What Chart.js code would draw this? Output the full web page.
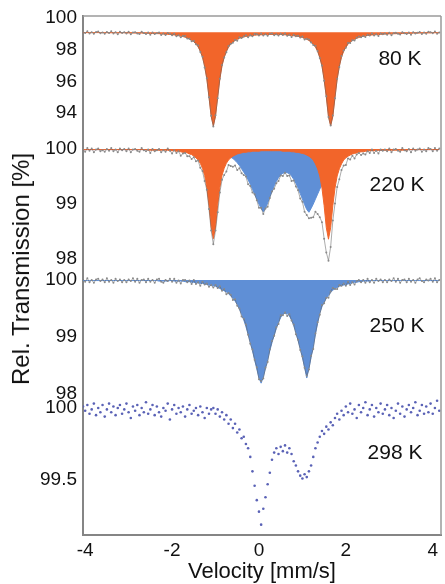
<!DOCTYPE html>
<html>
<head>
<meta charset="utf-8">
<script src="https://cdn.jsdelivr.net/npm/chart.js@4.4.1/dist/chart.umd.min.js"></script>
<style>
  html, body { margin: 0; padding: 0; background: #fff; }
  #wrap { position: relative; width: 445px; height: 584px; overflow: hidden; }
  #wrap canvas { position: absolute; left: 0; }
  #ytitle {
    position: absolute; left: 21px; top: 269px;
    transform: translate(-50%, -50%) rotate(-90deg);
    font: 24px "Liberation Sans", Arial, sans-serif; color: #111; white-space: nowrap;
  }
</style>
</head>
<body>
<div id="wrap">
  <canvas id="c80" width="445" height="175" style="top:-8px"></canvas>
  <canvas id="c220" width="445" height="175" style="top:119px"></canvas>
  <canvas id="c250" width="445" height="176" style="top:246px"></canvas>
  <canvas id="c298" width="445" height="210" style="top:374px"></canvas>
  <div id="ytitle">Rel. Transmission [%]</div>
</div>
<script>
// velocity channels (mm/s)
const velocity = [
  -4.05,-4,-3.95,-3.9,-3.85,-3.8,-3.75,-3.7,-3.65,-3.6,-3.55,-3.5,-3.45,-3.4,-3.35,-3.3,-3.25,-3.2,-3.15,-3.1,
  -3.05,-3,-2.95,-2.9,-2.85,-2.8,-2.75,-2.7,-2.65,-2.6,-2.55,-2.5,-2.45,-2.4,-2.35,-2.3,-2.25,-2.2,-2.15,-2.1,
  -2.05,-2,-1.95,-1.9,-1.85,-1.8,-1.75,-1.7,-1.65,-1.6,-1.55,-1.5,-1.45,-1.4,-1.35,-1.3,-1.25,-1.2,-1.15,-1.1,
  -1.05,-1,-0.95,-0.9,-0.85,-0.8,-0.75,-0.7,-0.65,-0.6,-0.55,-0.5,-0.45,-0.4,-0.35,-0.3,-0.25,-0.2,-0.15,-0.1,
  -0.05,0,0.05,0.1,0.15,0.2,0.25,0.3,0.35,0.4,0.45,0.5,0.55,0.6,0.65,0.7,0.75,0.8,0.85,0.9,
  0.95,1,1.05,1.1,1.15,1.2,1.25,1.3,1.35,1.4,1.45,1.5,1.55,1.6,1.65,1.7,1.75,1.8,1.85,1.9,
  1.95,2,2.05,2.1,2.15,2.2,2.25,2.3,2.35,2.4,2.45,2.5,2.55,2.6,2.65,2.7,2.75,2.8,2.85,2.9,
  2.95,3,3.05,3.1,3.15,3.2,3.25,3.3,3.35,3.4,3.45,3.5,3.55,3.6,3.65,3.7,3.75,3.8,3.85,3.9,
  3.95,4,4.05,4.1,4.15
];
const xTicks = [-4, -2, 0, 2, 4];

// 80 K: doublet fit (orange) and measured
const fit80 = [
  99.08,99.08,99.08,99.08,99.08,99.08,99.08,99.08,99.08,99.08,99.08,99.07,99.07,99.07,99.07,99.07,99.07,99.07,99.07,99.07,
  99.06,99.06,99.06,99.06,99.05,99.05,99.05,99.05,99.04,99.04,99.04,99.03,99.03,99.02,99.02,99.01,99.0,98.99,98.98,98.97,
  98.96,98.95,98.93,98.91,98.89,98.86,98.83,98.79,98.74,98.68,98.6,98.5,98.36,98.17,97.91,97.53,96.97,96.14,95.01,93.78,
  93.18,93.78,95.01,96.14,96.97,97.53,97.9,98.16,98.35,98.49,98.58,98.66,98.72,98.77,98.81,98.84,98.86,98.88,98.9,98.91,
  98.93,98.93,98.94,98.95,98.96,98.96,98.96,98.96,98.96,98.96,98.96,98.96,98.95,98.94,98.93,98.91,98.9,98.88,98.86,98.84,
  98.81,98.77,98.72,98.66,98.58,98.48,98.35,98.16,97.9,97.52,96.96,96.13,95.0,93.77,93.18,93.77,95.0,96.13,96.96,97.52,
  97.9,98.16,98.35,98.49,98.58,98.66,98.72,98.77,98.82,98.85,98.88,98.9,98.91,98.93,98.94,98.95,98.96,98.97,98.98,98.99,
  98.99,99.0,99.0,99.01,99.01,99.02,99.02,99.03,99.03,99.04,99.04,99.04,99.05,99.05,99.05,99.05,99.06,99.06,99.06,99.06,
  99.06,99.07,99.07,99.07,99.07
];
const data80 = [
  99.13,99.05,99.16,99.02,99.10,99.0,99.12,99.15,99.04,99.09,99.01,99.12,99.05,99.16,99.02,99.10,98.98,99.13,99.06,99.11,
  99.02,99.13,98.98,99.09,99.11,99.03,98.99,99.13,99.05,98.99,99.08,98.94,99.09,98.99,99.04,99.08,98.93,99.02,98.93,99.05,
  99.01,98.92,99.01,98.85,98.91,98.78,98.87,98.86,98.70,98.69,98.53,98.55,98.34,98.26,97.86,97.56,96.88,96.20,95.0,93.82,
  93.14,93.85,94.93,96.17,97.03,97.51,97.84,98.24,98.36,98.44,98.62,98.57,98.78,98.74,98.83,98.91,98.79,98.91,98.85,98.99,
  98.98,98.90,99.02,98.89,98.98,98.88,99.0,99.03,98.92,98.97,98.89,99.01,98.93,99.03,98.88,98.94,98.81,98.94,98.85,98.88,
  98.77,98.84,98.64,98.69,98.64,98.46,98.29,98.24,97.91,97.47,97.0,96.04,95.06,93.74,93.20,93.84,94.93,96.16,96.91,97.60,
  97.95,98.13,98.43,98.43,98.60,98.58,98.76,98.84,98.78,98.86,98.81,98.95,98.89,99.02,98.89,98.98,98.87,99.03,98.97,99.03,
  98.95,99.07,98.92,99.04,99.07,99.0,98.96,99.11,99.04,98.99,99.08,98.95,99.11,99.02,99.07,99.12,98.99,99.09,99.01,99.14,
  99.11,99.04,99.15,99.01,99.09
];

// 220 K: orange doublet, blue doublet, measured
const fit220orange = [
  99.99,99.99,99.99,99.99,99.99,99.99,99.99,99.99,99.99,99.99,99.99,99.99,99.99,99.99,99.99,99.99,99.99,99.99,99.99,99.99,
  99.99,99.99,99.99,99.99,99.99,99.99,99.99,99.99,99.99,99.99,99.98,99.98,99.98,99.98,99.98,99.98,99.98,99.98,99.98,99.98,
  99.97,99.97,99.97,99.96,99.96,99.95,99.94,99.94,99.93,99.91,99.9,99.87,99.84,99.8,99.74,99.65,99.52,99.3,98.98,98.58,
  98.37,98.58,98.98,99.3,99.52,99.65,99.74,99.8,99.84,99.87,99.89,99.91,99.92,99.93,99.94,99.94,99.95,99.95,99.96,99.96,
  99.96,99.96,99.97,99.97,99.97,99.97,99.97,99.97,99.97,99.97,99.97,99.97,99.96,99.96,99.96,99.96,99.95,99.95,99.94,99.94,
  99.93,99.92,99.91,99.89,99.87,99.84,99.8,99.73,99.64,99.51,99.29,98.97,98.57,98.36,98.57,98.97,99.29,99.51,99.64,99.73,
  99.8,99.84,99.87,99.89,99.91,99.92,99.93,99.94,99.95,99.95,99.96,99.96,99.97,99.97,99.97,99.97,99.98,99.98,99.98,99.98,
  99.98,99.98,99.98,99.98,99.98,99.98,99.98,99.98,99.98,99.98,99.99,99.99,99.99,99.99,99.99,99.99,99.99,99.99,99.99,99.99,
  99.99,99.99,99.99,99.99,99.99
];
const fit220blue = [
  99.99,99.99,99.99,99.99,99.99,99.99,99.99,99.99,99.99,99.99,99.99,99.99,99.99,99.99,99.99,99.99,99.99,99.99,99.99,99.99,
  99.99,99.99,99.99,99.99,99.99,99.99,99.99,99.99,99.99,99.99,99.99,99.99,99.99,99.99,99.99,99.99,99.99,99.99,99.99,99.99,
  99.98,99.98,99.98,99.98,99.97,99.97,99.97,99.97,99.96,99.96,99.96,99.96,99.95,99.95,99.95,99.94,99.94,99.94,99.93,99.93,
  99.92,99.92,99.91,99.91,99.9,99.89,99.88,99.87,99.85,99.83,99.79,99.75,99.7,99.64,99.58,99.52,99.44,99.36,99.27,99.18,
  99.09,99.0,98.92,98.86,98.92,99.02,99.13,99.23,99.33,99.41,99.48,99.53,99.56,99.57,99.57,99.55,99.51,99.45,99.38,99.29,
  99.19,99.09,98.99,98.9,98.85,98.92,99.0,99.09,99.18,99.27,99.36,99.44,99.52,99.58,99.64,99.7,99.75,99.79,99.83,99.85,
  99.88,99.9,99.92,99.93,99.94,99.95,99.95,99.96,99.96,99.97,99.97,99.97,99.97,99.98,99.98,99.98,99.98,99.98,99.98,99.99,
  99.99,99.99,99.99,99.99,99.99,99.99,99.99,99.99,99.99,99.99,99.99,99.99,99.99,99.99,99.99,99.99,99.99,99.99,99.99,99.99,
  99.99,99.99,99.99,99.99,99.99
];
const data220 = [
  100.0,99.95,100.02,99.97,100.01,99.94,99.99,100.01,99.96,99.98,99.95,100.0,99.97,100.02,99.96,99.99,99.94,100.01,99.98,100.0,
  99.96,100.01,99.94,99.99,100.0,99.97,99.95,100.02,99.98,99.96,99.99,99.93,100.0,99.96,99.98,100.0,99.94,99.98,99.95,100.01,
  99.97,99.92,99.98,99.93,99.96,99.88,99.92,99.93,99.87,99.87,99.82,99.85,99.78,99.79,99.66,99.6,99.42,99.26,98.91,98.52,
  98.27,98.52,98.85,99.21,99.44,99.53,99.59,99.71,99.69,99.68,99.7,99.62,99.65,99.56,99.53,99.5,99.36,99.33,99.21,99.18,
  99.07,98.93,98.93,98.82,98.92,98.95,99.11,99.23,99.28,99.38,99.42,99.52,99.51,99.57,99.51,99.52,99.42,99.43,99.32,99.25,
  99.10,99.04,98.86,98.80,98.74,98.75,98.76,98.86,98.82,98.76,98.67,98.37,98.12,97.97,98.22,98.7,99.01,99.31,99.45,99.62,
  99.7,99.71,99.83,99.81,99.88,99.83,99.9,99.93,99.89,99.92,99.9,99.96,99.93,99.99,99.93,99.97,99.92,99.99,99.97,99.99,
  99.96,100.01,99.94,99.99,100.0,99.97,99.95,100.02,99.98,99.96,100.0,99.94,100.01,99.97,99.99,100.01,99.95,99.99,99.96,100.02,
  100.0,99.96,100.02,99.97,100.01
];

// 250 K: blue doublet and measured
const fit250 = [
  99.99,99.99,99.99,99.99,99.99,99.99,99.99,99.99,99.99,99.99,99.99,99.99,99.99,99.99,99.99,99.99,99.99,99.99,99.99,99.99,
  99.99,99.99,99.99,99.99,99.99,99.99,99.99,99.99,99.99,99.99,99.99,99.99,99.99,99.99,99.99,99.98,99.98,99.98,99.98,99.98,
  99.99,99.99,99.98,99.98,99.98,99.98,99.98,99.97,99.97,99.97,99.96,99.96,99.95,99.95,99.94,99.94,99.93,99.92,99.91,99.9,
  99.9,99.89,99.87,99.85,99.83,99.81,99.79,99.76,99.72,99.68,99.63,99.57,99.49,99.4,99.3,99.18,99.05,98.91,98.76,98.6,
  98.44,98.28,98.19,98.3,98.45,98.6,98.76,98.9,99.03,99.15,99.26,99.34,99.4,99.42,99.41,99.37,99.3,99.2,99.08,98.94,
  98.8,98.64,98.47,98.28,98.45,98.64,98.83,99.05,99.24,99.42,99.53,99.61,99.68,99.73,99.78,99.82,99.85,99.87,99.89,99.9,
  99.91,99.92,99.93,99.94,99.95,99.96,99.96,99.97,99.97,99.98,99.98,99.98,99.98,99.99,99.99,99.99,99.99,99.99,99.99,99.99,
  99.99,99.99,99.99,99.99,99.99,99.99,99.99,99.99,99.99,99.99,99.99,99.99,99.99,99.99,99.99,99.99,99.99,99.99,99.99,99.99,
  99.99,99.99,99.99,99.99,99.99
];
const data250 = [
  100.02,99.97,100.03,99.96,100.0,99.95,100.01,100.02,99.98,100.01,99.96,100.03,99.97,100.0,99.95,100.02,99.98,100.01,99.96,100.0,
  99.96,100.01,99.98,100.03,99.97,100.02,99.95,100.0,100.01,99.96,100.02,99.97,100.0,99.95,100.01,100.02,99.97,99.95,100.0,99.98,
  100.02,99.97,100.02,99.95,99.99,99.94,100.0,100.0,99.96,99.99,99.93,100.0,99.93,99.96,99.9,99.97,99.92,99.94,99.88,99.91,
  99.87,99.91,99.86,99.89,99.81,99.84,99.75,99.77,99.74,99.65,99.66,99.55,99.5,99.36,99.32,99.22,99.04,98.88,98.78,98.6,
  98.47,98.26,98.23,98.27,98.46,98.56,98.78,98.93,99.02,99.17,99.23,99.38,99.38,99.43,99.37,99.4,99.29,99.22,99.05,98.95,
  98.77,98.66,98.46,98.32,98.43,98.67,98.79,99.06,99.26,99.39,99.56,99.59,99.69,99.69,99.8,99.86,99.84,99.84,99.91,99.9,
  99.94,99.9,99.97,99.91,99.96,99.92,99.98,100.0,99.96,100.0,99.95,100.02,99.96,100.0,99.95,100.02,99.98,100.01,99.96,100.0,
  99.96,100.01,99.98,100.03,99.97,100.02,99.95,100.0,100.01,99.96,100.02,99.97,100.0,99.95,100.01,100.03,99.98,99.96,100.01,99.99,
  100.02,99.97,100.03,99.96,100.0
];

// 298 K: measured only
const data298 = [
  100.01,99.98,100.02,99.96,99.99,100.03,99.95,100.0,99.97,100.02,99.94,99.99,100.03,99.97,100.01,99.95,100.0,100.02,99.96,99.99,
  100.03,99.97,99.93,100.01,99.98,100.02,99.95,100.0,99.97,100.04,99.96,99.99,100.02,99.95,100.01,99.97,99.94,100.0,99.98,100.03,
  99.92,99.99,100.02,99.96,100.0,99.97,100.01,99.94,99.99,100.02,99.96,99.98,100.0,99.95,100.01,99.97,99.93,100.0,99.96,99.99,
  100.0,99.96,99.99,99.94,99.97,99.92,99.95,99.89,99.92,99.86,99.89,99.83,99.85,99.79,99.8,99.75,99.72,99.66,99.56,99.46,
  99.36,99.28,99.19,99.3,99.38,99.47,99.55,99.64,99.69,99.72,99.68,99.73,99.7,99.74,99.69,99.72,99.68,99.63,99.6,99.56,
  99.53,99.51,99.54,99.52,99.56,99.6,99.66,99.72,99.76,99.8,99.84,99.82,99.87,99.85,99.9,99.88,99.93,99.96,99.92,99.98,
  99.95,100.01,99.97,100.03,99.96,99.99,99.93,100.02,99.97,100.0,100.04,99.95,99.99,100.02,99.94,100.0,99.97,100.03,99.96,99.99,
  100.02,99.95,100.0,99.93,99.98,100.03,99.96,100.01,99.94,99.99,100.02,99.97,100.0,100.04,99.95,99.98,100.02,99.96,100.01,99.97,
  100.03,99.96,100.0,100.05,99.98
];

const ticks80 = [94, 96, 98, 100];
const ticks220 = [98, 99, 100];
const ticks250 = [98, 99, 100];
const ticks298 = [99.5, 100];

const FONT = '"Liberation Sans", Arial, sans-serif';
const ORANGE = '#f2652a';
const BLUE = '#5f8fd6';
const AXIS = '#858585';

function pts(ys) {
    return velocity.map((v, i) => ({x: v, y: ys[i]}));
}

// panel label + right/top frame lines
const panelDeco = {
    id: 'panelDeco',
    afterDraw(chart, args, opts) {
        const ctx = chart.ctx;
        const a = chart.chartArea;
        ctx.save();
        ctx.strokeStyle = '#9a9a9a';
        ctx.lineWidth = 1.5;
        ctx.beginPath();
        ctx.moveTo(a.right, a.top);
        ctx.lineTo(a.right, a.bottom);
        if (opts.top) {
            ctx.moveTo(a.left, a.top);
            ctx.lineTo(a.right, a.top);
        }
        ctx.stroke();
        ctx.font = '21px ' + FONT;
        ctx.fillStyle = '#111';
        ctx.textAlign = 'center';
        ctx.textBaseline = 'middle';
        ctx.fillText(opts.text, opts.x, opts.y);
        ctx.restore();
    }
};

function yScale(min, max, ticks) {
    return {
        min: min,
        max: max,
        afterBuildTicks: s => { s.ticks = ticks.map(v => ({value: v})); },
        afterFit: s => { s.width = 83; s.paddingTop = 0; s.paddingBottom = 0; },
        grid: {display: false, drawTicks: false},
        border: {color: AXIS, width: 2},
        ticks: {padding: 6, color: '#111', font: {size: 19, family: FONT}, callback: v => String(v)}
    };
}

function xScale(show) {
    const x = {
        type: 'linear',
        min: -4.05,
        max: 4.19,
        display: show,
        afterBuildTicks: s => { s.ticks = xTicks.map(v => ({value: v})); },
        grid: {display: false, drawTicks: false},
        border: {color: AXIS, width: 2},
        ticks: {padding: 4, autoSkip: false, maxRotation: 0, color: '#111',
                font: {size: 19, family: FONT}, callback: v => String(v)},
        title: {display: true, text: 'Velocity [mm/s]', color: '#111',
                font: {size: 22, family: FONT, lineHeight: 1}, padding: {top: 0, bottom: 1}}
    };
    if (show) {
        x.afterFit = s => { s.height = 49; s.paddingLeft = 0; s.paddingRight = 0; };
    }
    return x;
}

function measured(ys, withLine) {
    return {
        data: pts(ys),
        showLine: withLine,
        borderColor: 'rgba(95,95,95,0.75)',
        borderWidth: 0.7,
        pointRadius: 1,
        pointBorderWidth: 0,
        pointBackgroundColor: '#8a8a8a',
        fill: false,
        order: 0
    };
}

function component(ys, color, base, order) {
    return {
        data: pts(ys),
        borderColor: color,
        borderWidth: 1,
        backgroundColor: color,
        pointRadius: 0,
        fill: {value: base},
        order: order
    };
}

function makeChart(id, datasets, y, deco, last) {
    new Chart(document.getElementById(id), {
        type: 'line',
        data: {datasets: datasets},
        options: {
            responsive: false,
            animation: false,
            events: [],
            layout: {padding: {left: 0, right: 3, top: 24, bottom: last ? 0 : 24}},
            scales: {x: xScale(last), y: y},
            plugins: {legend: {display: false}, tooltip: {enabled: false}, panelDeco: deco}
        },
        plugins: [panelDeco]
    });
}

makeChart('c80', [
    measured(data80, true),
    component(fit80, ORANGE, 99.1, 1)
], yScale(92.1, 100.13, ticks80), {text: '80 K', x: 400, y: 67, top: true}, false);

makeChart('c220', [
    measured(data220, true),
    component(fit220orange, ORANGE, 100, 1),
    component(fit220blue, BLUE, 100, 2)
], yScale(97.8, 100.11, ticks220), {text: '220 K', x: 397, y: 66}, false);

makeChart('c250', [
    measured(data250, true),
    component(fit250, BLUE, 100, 1)
], yScale(97.93, 100.175, ticks250), {text: '250 K', x: 397, y: 80}, false);

const dots298 = measured(data298, false);
dots298.pointRadius = 1.3;
dots298.pointBackgroundColor = '#5a62b6';
makeChart('c298', [dots298], yScale(99.118, 100.069, ticks298), {text: '298 K', x: 395, y: 79}, true);
</script>
</body>
</html>
